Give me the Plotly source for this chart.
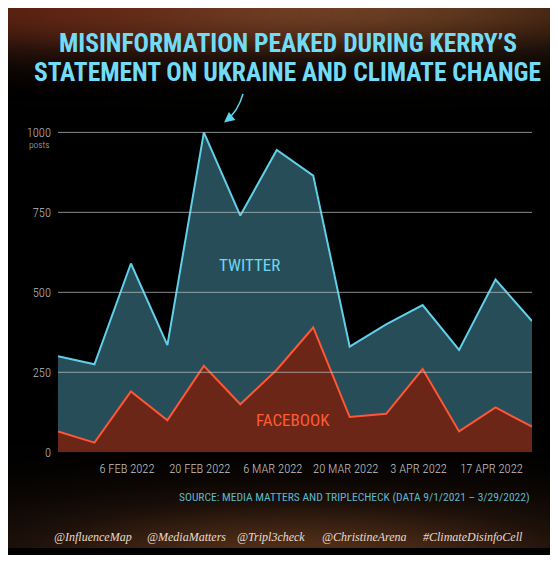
import numpy as np
import plotly.graph_objects as go

# ---------------- data ----------------
weeks = ["2022-01-23", "2022-01-30", "2022-02-06", "2022-02-13", "2022-02-20",
         "2022-02-27", "2022-03-06", "2022-03-13", "2022-03-20", "2022-03-27",
         "2022-04-03", "2022-04-10", "2022-04-17", "2022-04-24"]
twitter = [300, 275, 590, 335, 1000, 740, 945, 865, 330, 400, 460, 320, 540, 410]
facebook = [65, 30, 190, 100, 270, 150, 258, 390, 110, 120, 260, 65, 140, 80]
x_tick_vals = ["2022-02-06", "2022-02-20", "2022-03-06", "2022-03-20", "2022-04-03", "2022-04-17"]
x_tick_text = ["6 FEB 2022", "20 FEB 2022", "6 MAR 2022", "20 MAR 2022", "3 APR 2022", "17 APR 2022"]
y_tick_vals = [0, 250, 500, 750, 1000]
y_tick_text = ["0", "250", "500", "750", "1000"]
handles = ["@InfluenceMap", "@MediaMatters", "@Tripl3check", "@ChristineArena", "#ClimateDisinfoCell"]

# page is 558x563; the browser body has an 8px margin around the figure
PW, PH = 558, 563
OFF = 8
W, H = PW - OFF, PH - 2 * OFF
COND = "Roboto Condensed, Open Sans Condensed, DejaVu Sans Condensed, sans-serif"

def fx(x):  # page x -> figure fraction
    return (x - OFF) / W
def fy(y):  # page y -> figure fraction (from bottom)
    return 1 - (y - OFF) / H

fig = go.Figure()

# ---------------- decorative background glow (panel) ----------------
N = 70
xe = np.linspace(OFF, OFF + W, N + 1)
ye = np.linspace(OFF, OFF + H, N + 1)
xc = (xe[:-1] + xe[1:]) / 2
yc = (ye[:-1] + ye[1:]) / 2
XX, YY = np.meshgrid(xc, yc)
top = np.exp(-((XX - 300) / 400) ** 2) * np.exp(-((YY - 9) / 48) ** 2)
bot = 0.75 * np.exp(-((XX - 300) / 320) ** 2) * np.exp(-((YY - PH) / 60) ** 2)
glow = np.clip(top + bot, 0, 1)
fig.add_trace(go.Heatmap(
    x=xe, y=ye, z=glow, zmin=0, zmax=1, zsmooth="best", showscale=False,
    colorscale=[[0, "#000000"], [0.35, "#1e110a"], [0.7, "#4c2b17"], [1, "#6e4226"]],
    hoverinfo="skip", xaxis="x", yaxis="y"))
red = np.exp(-((XX - 40) / 220) ** 2) * np.exp(-((YY - 9) / 38) ** 2)
fig.add_trace(go.Heatmap(
    x=xe, y=ye, z=red, zmin=0, zmax=1, zsmooth="best", showscale=False,
    colorscale=[[0, "rgba(110,32,18,0)"], [1, "rgba(110,32,18,0.55)"]],
    hoverinfo="skip", xaxis="x", yaxis="y"))

# ---------------- data traces ----------------
fig.add_trace(go.Scatter(
    x=weeks, y=twitter, mode="lines", fill="tozeroy",
    line=dict(color="#62cfe9", width=2), fillcolor="rgba(42,85,96,0.92)",
    hoverinfo="skip", xaxis="x2", yaxis="y2", cliponaxis=False))
fig.add_trace(go.Scatter(
    x=weeks, y=facebook, mode="lines", fill="tozeroy",
    line=dict(color="#ff5634", width=2), fillcolor="rgba(110,37,22,0.97)",
    hoverinfo="skip", xaxis="x2", yaxis="y2", cliponaxis=False))

# gridlines drawn above fills (from tick values)
shapes = []
for v in y_tick_vals:
    if v == 0:
        continue
    shapes.append(dict(type="line", xref="x2 domain", yref="y2", x0=0, x1=1, y0=v, y1=v,
                       line=dict(color="rgba(190,200,200,0.7)", width=1), layer="above"))

# curved arrow
shapes.append(dict(type="path", xref="paper", yref="paper",
                   path=f"M{fx(243)},{fy(95)} Q{fx(238)},{fy(113)} {fx(226)},{fy(122)}",
                   line=dict(color="#5fd0ee", width=1.6)))

title_font = dict(family=COND, size=25.5, color="#72dcf7", weight="bold")
annotations = [
    dict(text="MISINFORMATION PEAKED DURING KERRY’S", x=fx(288), y=fy(43), xref="paper", yref="paper",
         showarrow=False, xanchor="center", yanchor="middle", font=title_font),
    dict(text="STATEMENT ON UKRAINE AND CLIMATE CHANGE", x=fx(288), y=fy(73), xref="paper", yref="paper",
         showarrow=False, xanchor="center", yanchor="middle", font=title_font),
    dict(text="", x=fx(224), y=fy(124), xref="paper", yref="paper", showarrow=True,
         ax=5, ay=-4, arrowhead=2, arrowsize=1.3, arrowwidth=1.6, arrowcolor="#5fd0ee"),
    dict(text="posts", x=fx(52), y=fy(146), xref="paper", yref="paper", showarrow=False,
         xanchor="right", yanchor="middle", font=dict(family=COND, size=9.5, color="#bdbdbd", weight=300)),
    dict(text="TWITTER", x=fx(249), y=fy(268), xref="paper", yref="paper", showarrow=False,
         xanchor="center", yanchor="middle", font=dict(family=COND, size=17, color="#70d6f1")),
    dict(text="FACEBOOK", x=fx(293), y=fy(425), xref="paper", yref="paper", showarrow=False,
         xanchor="center", yanchor="middle", font=dict(family=COND, size=17, color="#ff5a36")),
    dict(text="SOURCE: MEDIA MATTERS AND TRIPLECHECK (DATA 9/1/2021 – 3/29/2022)",
         x=fx(532), y=fy(503), xref="paper", yref="paper", showarrow=False,
         xanchor="right", yanchor="middle", font=dict(family=COND, size=11.5, color="#5fb6c9")),
]
handle_x = [93, 186, 271, 364, 473]
for h, hx in zip(handles, handle_x):
    annotations.append(dict(text=f"<i>{h}</i>", x=fx(hx), y=fy(544), xref="paper", yref="paper",
                            showarrow=False, xanchor="center", yanchor="middle",
                            font=dict(family="Liberation Serif, DejaVu Serif, serif", size=12,
                                      color="#e6ddcc")))

fig.update_layout(
    width=W, height=H, autosize=False,
    margin=dict(l=0, r=0, t=0, b=0),
    paper_bgcolor="#000000", plot_bgcolor="rgba(0,0,0,0)",
    showlegend=False,
    xaxis=dict(domain=[0, 1], range=[OFF, OFF + W], visible=False, fixedrange=True),
    yaxis=dict(domain=[0, 1], range=[OFF + H, OFF], visible=False, fixedrange=True),
    xaxis2=dict(domain=[fx(58), fx(532)], anchor="y2", type="date",
                range=[weeks[0], weeks[-1]], tickvals=x_tick_vals, ticktext=x_tick_text,
                showgrid=False, zeroline=False, showline=False, ticks="",
                ticklabelshift=-4, ticklabelstandoff=7,
                tickfont=dict(family=COND, size=12.5, color="#c4c4c4", weight=300)),
    yaxis2=dict(domain=[fy(458), fy(117.8)], anchor="x2", range=[0, 1050],
                tickvals=y_tick_vals, ticktext=y_tick_text,
                showgrid=False, zeroline=False, showline=False, ticks="",
                ticklabelstandoff=6,
                tickfont=dict(family=COND, size=12.5, color="#bdbdbd", weight=300)),
    shapes=shapes,
    annotations=annotations,
)

fig.write_html("out.html")
